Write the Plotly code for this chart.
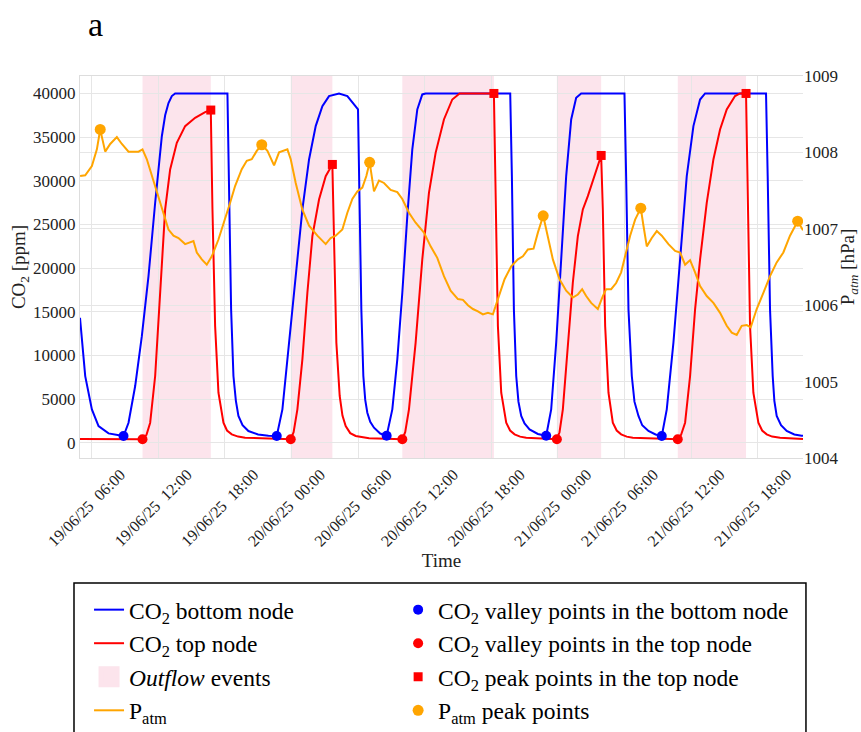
import pandas as pd
import plotly.graph_objects as go

BASE = pd.Timestamp("2025-06-19 00:00")

# ---- CO2 bottom node (hours since 19/06/25 00:00, ppm)
bottom_h = [4.96, 5.43, 6.03, 6.63, 7.53, 8.88, 9.33, 9.93, 10.53, 11.13, 11.73, 12.33, 12.63, 12.93, 13.23, 13.53,
            18.24, 18.39, 18.57, 18.78, 19.0, 19.23, 19.6, 20.13, 21.0, 21.93, 22.68,
            23.19, 23.64, 24.09, 24.54, 24.99, 25.59, 26.19, 26.79, 27.39, 28.29, 29.04, 29.64, 30.0,
            30.15, 30.3, 30.48, 30.65, 30.84, 31.1, 31.44, 32.0, 32.58,
            33.09, 33.54, 33.99, 34.44, 34.89, 35.34, 35.79, 36.09,
            43.71, 43.86, 44.04, 44.25, 44.45, 44.7, 45.0, 45.45, 46.2, 46.95,
            47.4, 47.85, 48.3, 48.75, 49.2, 49.65, 50.1,
            54.0, 54.15, 54.36, 54.66, 54.9, 55.26, 55.6, 56.16, 56.8, 57.36,
            57.81, 58.41, 59.01, 59.61, 60.21, 60.81, 61.26,
            66.75, 66.9, 67.11, 67.35, 67.5, 67.71, 68.1, 68.61, 69.3, 69.96, 70.08]
bottom_v = [14300, 7630, 3820, 1900, 1070, 760, 2290, 6490, 12200, 19080, 27480, 35100, 37500, 38900, 39700, 40000,
            40000, 30530, 15270, 7640, 4800, 3060, 2000, 1340, 950, 790, 760,
            3820, 9550, 15270, 21750, 26720, 32440, 36260, 38550, 39700, 40000, 39700, 38740, 38170,
            26720, 15270, 7640, 4900, 3440, 2400, 1720, 1050, 800,
            3820, 9550, 17180, 25950, 33590, 38170, 39890, 40000,
            40000, 30530, 15270, 7640, 4700, 3060, 2200, 1530, 1000, 800,
            3820, 11460, 21000, 30530, 37020, 39500, 40000,
            40000, 30530, 15270, 7640, 4700, 3060, 2000, 1340, 950, 770,
            3820, 11460, 20620, 30530, 36260, 39310, 40000,
            40000, 30530, 15270, 7640, 4800, 3060, 2000, 1340, 950, 800, 790]

# ---- CO2 top node
top_h = [4.96, 10.59, 10.95, 11.28, 11.73, 12.18, 12.63, 13.08, 13.68, 14.43, 15.33, 16.23, 16.74,
         16.89, 17.13, 17.43, 17.88, 18.2, 18.63, 19.2, 19.83, 23.94,
         24.2, 24.54, 24.99, 25.44, 25.89, 26.49, 27.09, 27.69,
         27.84, 28.05, 28.35, 28.6, 28.89, 29.3, 29.79, 31.0, 33.99,
         34.25, 34.59, 35.19, 35.79, 36.39, 36.99, 37.74, 38.49, 39.15, 42.24,
         42.39, 42.6, 42.9, 43.35, 43.7, 44.1, 44.6, 45.15, 47.91,
         48.15, 48.45, 48.9, 49.35, 49.8, 50.25, 50.7, 51.3, 51.9,
         52.05, 52.26, 52.56, 52.95, 53.3, 53.7, 54.2, 54.75, 58.8,
         59.1, 59.46, 59.91, 60.36, 60.81, 61.41, 62.01, 62.61, 63.21, 63.96, 64.41, 64.95,
         65.1, 65.31, 65.61, 66.06, 66.4, 66.81, 67.3, 68.01, 70.08]
top_v = [420, 400, 900, 2290, 7640, 17170, 26720, 31300, 34340, 36260, 37210, 37860, 38100,
         26720, 13360, 5730, 2290, 1400, 960, 700, 570, 400,
         1200, 3820, 9550, 17170, 23660, 27860, 30530, 31870,
         22900, 11450, 5350, 3100, 1910, 1100, 770, 500, 400,
         1200, 3820, 11460, 21000, 28620, 33200, 37020, 39310, 40000, 40000,
         26720, 13360, 5730, 2290, 1400, 960, 700, 570, 400,
         1200, 3820, 11460, 18350, 23660, 26720, 28240, 30530, 32900,
         26720, 13360, 5730, 2290, 1400, 960, 700, 570, 400,
         900, 2290, 7640, 15270, 21000, 27480, 32440, 35880, 38170, 39700, 40000, 40000,
         26720, 13360, 5730, 2290, 1400, 960, 700, 570, 430]

# ---- Atmospheric pressure (hPa)
patm_h = [4.97, 5.43, 6.03, 6.48, 6.78, 7.23, 7.68, 8.28, 8.73, 9.33, 10.23, 10.59, 10.98, 11.43,
          12.03, 12.48, 12.93, 13.38, 13.83, 14.43, 14.88, 15.18, 15.48, 15.93, 16.38, 16.83,
          17.43, 18.03, 18.48, 18.93, 19.53, 19.98, 20.43, 20.88, 21.33, 21.84, 22.44, 22.89,
          23.34, 23.64, 23.94, 24.39, 24.99, 25.59, 26.34, 27.09, 27.54, 27.99, 28.59, 29.04,
          29.49, 29.94, 30.39, 30.75, 31.05, 31.44, 31.89, 32.34, 32.94, 33.54, 33.99, 34.59,
          35.19, 35.94, 36.54, 37.14, 37.74, 38.34, 39.0, 39.45, 39.9, 40.35, 40.8, 41.25,
          41.7, 42.15, 42.6, 43.2, 43.8, 44.4, 44.85, 45.3, 45.81, 46.2, 46.68, 47.1, 47.55,
          48.15, 48.75, 49.35, 49.8, 50.19, 50.55, 51.0, 51.6, 52.05, 52.35, 52.8, 53.25,
          53.7, 54.06, 54.51, 54.96, 55.47, 55.71, 56.01, 56.46, 56.91, 57.36, 57.96, 58.56,
          59.01, 59.46, 59.91, 60.36, 60.81, 61.41, 62.01, 62.61, 63.21, 63.66, 64.11, 64.56,
          65.01, 65.37, 65.91, 66.51, 67.11, 67.71, 68.31, 68.91, 69.6, 70.08]
patm_v = [1007.69, 1007.70, 1007.82, 1008.04, 1008.30, 1008.01, 1008.11, 1008.20, 1008.11, 1008.01,
          1008.01, 1008.04, 1007.91, 1007.69, 1007.43, 1007.21, 1006.99, 1006.91, 1006.88, 1006.80,
          1006.82, 1006.84, 1006.69, 1006.60, 1006.53, 1006.64, 1006.86, 1007.12, 1007.34, 1007.56,
          1007.78, 1007.89, 1007.91, 1008.02, 1008.10, 1008.02, 1007.83, 1008.00, 1008.02, 1008.04,
          1007.91, 1007.60, 1007.25, 1007.04, 1006.91, 1006.80, 1006.88, 1006.91, 1006.99, 1007.21,
          1007.39, 1007.49, 1007.54, 1007.69, 1007.87, 1007.49, 1007.63, 1007.60, 1007.51, 1007.48,
          1007.39, 1007.21, 1007.08, 1006.95, 1006.77, 1006.62, 1006.38, 1006.19, 1006.08, 1006.07,
          1006.00, 1005.95, 1005.92, 1005.88, 1005.90, 1005.88, 1006.08, 1006.34, 1006.51, 1006.60,
          1006.64, 1006.73, 1006.74, 1006.95, 1007.17, 1006.91, 1006.60, 1006.34, 1006.19, 1006.10,
          1006.14, 1006.21, 1006.12, 1006.03, 1005.95, 1006.12, 1006.21, 1006.21, 1006.29, 1006.43,
          1006.64, 1006.91, 1007.12, 1007.27, 1007.04, 1006.77, 1006.88, 1006.97, 1006.91, 1006.80,
          1006.71, 1006.69, 1006.53, 1006.59, 1006.43, 1006.25, 1006.12, 1006.03, 1005.90, 1005.73,
          1005.64, 1005.61, 1005.73, 1005.74, 1005.71, 1005.95, 1006.16, 1006.38, 1006.56, 1006.69,
          1006.91, 1007.10, 1006.98]

# ---- Detected points
bottom_valley_h = [8.88, 22.68, 32.58, 46.95, 57.36]
bottom_valley_v = [760, 760, 800, 800, 770]
top_valley_h = [10.59, 23.94, 33.99, 47.91, 58.8]
top_valley_v = [400, 400, 400, 400, 400]
top_peak_h = [16.74, 27.69, 42.24, 51.9, 64.95]
top_peak_v = [38100, 31870, 40000, 32900, 40000]
patm_peak_h = [6.78, 21.33, 31.05, 46.68, 55.47, 69.6]
patm_peak_v = [1008.30, 1008.10, 1007.87, 1007.17, 1007.27, 1007.10]

# ---- Outflow events (start, end)
outflow_start_h = [10.59, 23.94, 33.99, 47.91, 58.8]
outflow_end_h = [16.74, 27.69, 42.24, 51.9, 64.95]

# ---- Axis ticks
xtick_h = [6, 12, 18, 24, 30, 36, 42, 48, 54, 60, 66]
xtick_text = ["19/06/25\u00a0 06:00", "19/06/25\u00a0 12:00", "19/06/25\u00a0 18:00",
              "20/06/25\u00a0 00:00", "20/06/25\u00a0 06:00", "20/06/25\u00a0 12:00",
              "20/06/25\u00a0 18:00", "21/06/25\u00a0 00:00", "21/06/25\u00a0 06:00",
              "21/06/25\u00a0 12:00", "21/06/25\u00a0 18:00"]
x_range_h = [4.96, 70.08]
co2_ticks = [0, 5000, 10000, 15000, 20000, 25000, 30000, 35000, 40000]
patm_ticks = [1004, 1005, 1006, 1007, 1008, 1009]


def t(hours):
    return [BASE + pd.Timedelta(hours=h) for h in hours]


FONT = "Liberation Serif, Times New Roman, serif"
BLUE, RED, ORANGE, PINK = "#0000FF", "#FF0000", "#FFA500", "#FCE4EC"
GRID = "#E6E6E6"

fig = go.Figure()

# outflow events as shapes (behind gridlines)
for s, e in zip(outflow_start_h, outflow_end_h):
    fig.add_shape(type="rect", xref="x", yref="paper", x0=t([s])[0], x1=t([e])[0], y0=0, y1=1,
                  fillcolor=PINK, line_width=0, layer="below")

fig.add_trace(go.Scatter(x=t(bottom_h), y=bottom_v, mode="lines", line=dict(color=BLUE, width=2),
                         name="CO<sub>2</sub> bottom node", legend="legend"))
fig.add_trace(go.Scatter(x=t(top_h), y=top_v, mode="lines", line=dict(color=RED, width=2),
                         name="CO<sub>2</sub> top node", legend="legend"))
# legend entry for the shaded outflow events
fig.add_trace(go.Scatter(x=[None], y=[None], mode="markers",
                         marker=dict(color=PINK, size=16, symbol="square", line=dict(color=PINK, width=5)),
                         name="<i>Outflow</i> events", legend="legend"))
fig.add_trace(go.Scatter(x=t(bottom_valley_h), y=bottom_valley_v, mode="markers",
                         marker=dict(color=BLUE, size=10, symbol="circle"),
                         name="CO<sub>2</sub> valley points in the bottom node", legend="legend2"))
fig.add_trace(go.Scatter(x=t(top_valley_h), y=top_valley_v, mode="markers",
                         marker=dict(color=RED, size=10, symbol="circle"),
                         name="CO<sub>2</sub> valley points in the top node", legend="legend2"))
fig.add_trace(go.Scatter(x=t(top_peak_h), y=top_peak_v, mode="markers",
                         marker=dict(color=RED, size=9, symbol="square"),
                         name="CO<sub>2</sub> peak points in the top node", legend="legend2"))
fig.add_trace(go.Scatter(x=t(patm_h), y=patm_v, mode="lines", yaxis="y2",
                         line=dict(color=ORANGE, width=2),
                         name="P<sub>atm</sub>", legend="legend"))
fig.add_trace(go.Scatter(x=t(patm_peak_h), y=patm_peak_v, mode="markers", yaxis="y2",
                         marker=dict(color=ORANGE, size=11, symbol="circle"),
                         name="P<sub>atm</sub> peak points", legend="legend2"))

# frame around the two legend columns
fig.add_shape(type="rect", xref="paper", yref="paper", x0=-0.0083, x1=1.0041, y0=-0.74, y1=-0.3272,
              line=dict(color="black", width=1.5), fillcolor="rgba(0,0,0,0)", layer="above")

legend_common = dict(orientation="v", yanchor="top", xanchor="left", bgcolor="rgba(0,0,0,0)",
                     borderwidth=0, font=dict(family=FONT, size=23.5, color="black"),
                     traceorder="normal", tracegroupgap=0)

fig.update_layout(
    width=861, height=732,
    margin=dict(l=80, r=58, t=76, b=274, autoexpand=False),
    paper_bgcolor="white", plot_bgcolor="white",
    font=dict(family=FONT, size=17, color="#222"),
    xaxis=dict(
        type="date", range=t(x_range_h), tickvals=t(xtick_h), ticktext=xtick_text,
        tickangle=-45, ticklabelshift=29, showgrid=True, gridcolor=GRID, showline=True,
        linecolor="#DDDDDD", mirror=True, ticks="", automargin=False,
        title=dict(text="Time", font=dict(size=19), standoff=0),
        tickfont=dict(size=16),
    ),
    yaxis=dict(
        range=[-1750, 42000], tickvals=co2_ticks,
        tickformat="d", showgrid=True, gridcolor=GRID, showline=True, linecolor="#DDDDDD",
        zeroline=False, ticks="", automargin=False,
        title=dict(text="CO<sub>2</sub> [ppm]", font=dict(size=19), standoff=2),
        tickfont=dict(size=17),
    ),
    yaxis2=dict(
        range=[1004, 1009], tickvals=patm_ticks, overlaying="y",
        side="right", showgrid=True, gridcolor=GRID, zeroline=False, ticks="", automargin=False,
        title=dict(text="P<sub><i>atm</i></sub> [hPa]", font=dict(size=19), standoff=5),
        tickfont=dict(size=17),
    ),
    legend=dict(x=0.0125, y=-0.34, **legend_common),
    legend2=dict(x=0.44, y=-0.34, **legend_common),
    annotations=[dict(text="a", xref="paper", yref="paper", x=0.021, y=1.134,
                      xanchor="center", yanchor="middle",
                      showarrow=False, font=dict(family=FONT, size=34, color="black"))],
)

fig.write_html("out.html", config={"displayModeBar": False},
               post_script="document.body.style.margin='0';")
